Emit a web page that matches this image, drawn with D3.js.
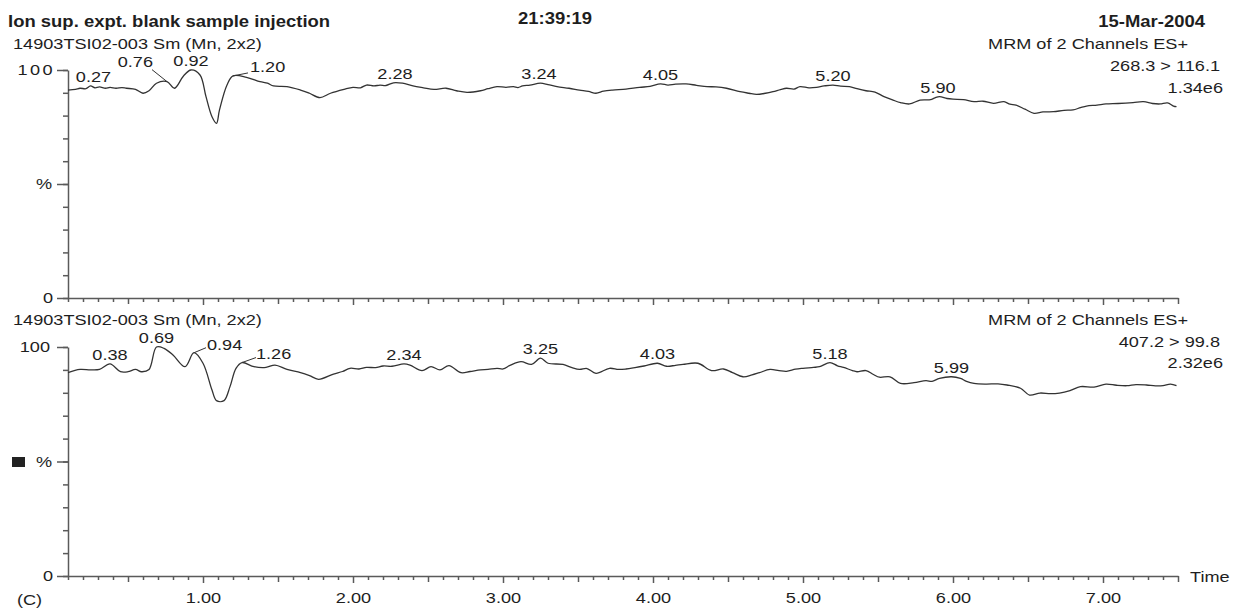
<!DOCTYPE html>
<html>
<head>
<meta charset="utf-8">
<script src="https://cdn.jsdelivr.net/npm/d3@7"></script>
<style>
  body { margin: 0; background: #fff; }
  svg { display: block; }
  text { font-family: "Liberation Sans", Arial, sans-serif; fill: #1e1e1e; }
  .axis path, .axis line { stroke: #5a5a5a; stroke-width: 1.5; }
</style>
</head>
<body>
<div class="content"></div>
<script>
// retention times (min) and % intensity
var topTrace = [
  [0.10,91.2],[0.15,91.5],[0.18,92.0],[0.22,91.8],[0.25,93.0],[0.28,92.2],[0.31,92.6],[0.35,92.0],[0.38,92.4],[0.42,92.0],
  [0.46,92.3],[0.49,92.0],[0.55,91.5],[0.60,89.8],[0.64,90.9],[0.69,94.2],[0.76,94.9],[0.81,92.0],[0.87,97.4],[0.92,100],
  [0.98,97.8],[1.02,88.3],[1.06,79.5],[1.09,76.6],[1.11,82.5],[1.16,93.4],[1.20,97.4],[1.29,96.8],[1.38,94.9],[1.43,94.2],
  [1.47,93.0],[1.56,92.7],[1.65,91.2],[1.71,89.8],[1.78,87.9],[1.85,89.8],[1.94,91.5],[2.00,92.4],[2.05,92.2],[2.09,93.4],
  [2.14,93.0],[2.18,93.4],[2.22,93.2],[2.27,94.4],[2.33,94.2],[2.40,93.0],[2.47,92.2],[2.54,91.5],[2.62,92.0],[2.69,90.9],
  [2.76,90.2],[2.85,90.9],[2.90,91.8],[2.96,92.7],[3.02,92.4],[3.07,92.7],[3.10,92.3],[3.13,93.0],[3.18,93.4],[3.25,94.2],
  [3.30,93.6],[3.36,92.7],[3.44,92.0],[3.51,91.2],[3.57,90.6],[3.62,89.8],[3.67,90.7],[3.73,91.2],[3.82,91.6],[3.91,92.4],
  [3.98,92.8],[4.05,93.9],[4.10,93.4],[4.15,93.8],[4.22,93.9],[4.29,93.3],[4.36,92.7],[4.42,92.6],[4.49,92.0],[4.58,90.5],
  [4.64,89.8],[4.69,89.3],[4.75,89.8],[4.80,90.5],[4.85,91.4],[4.89,92.0],[4.94,91.6],[4.98,92.7],[5.04,92.2],[5.09,92.4],
  [5.14,93.0],[5.20,93.4],[5.25,92.9],[5.31,92.7],[5.36,91.8],[5.42,90.9],[5.48,90.3],[5.54,88.3],[5.60,86.8],[5.65,85.7],
  [5.71,85.1],[5.78,86.8],[5.85,87.0],[5.88,87.8],[5.91,88.3],[5.96,87.5],[6.00,87.2],[6.07,87.0],[6.14,86.1],[6.20,86.3],
  [6.27,85.4],[6.34,86.1],[6.38,85.0],[6.42,84.6],[6.48,82.8],[6.54,81.0],[6.60,81.6],[6.67,81.7],[6.74,82.3],[6.80,82.5],
  [6.85,83.5],[6.89,84.2],[6.96,84.6],[7.02,85.1],[7.10,85.3],[7.20,85.7],[7.27,86.1],[7.33,85.3],[7.38,85.1],[7.43,85.6],
  [7.47,84.2],[7.49,83.9]
];
var bottomTrace = [
  [0.10,88.8],[0.18,90.2],[0.25,90.0],[0.31,90.2],[0.38,92.6],[0.45,89.2],[0.50,89.2],[0.55,90.2],[0.59,89.2],[0.64,90.2],
  [0.69,100],[0.74,99.4],[0.80,96.5],[0.88,91.4],[0.94,97.5],[1.00,92.9],[1.06,81.2],[1.09,76.6],[1.14,76.6],[1.18,82.7],
  [1.22,90.7],[1.26,93.2],[1.34,91.4],[1.42,91.1],[1.48,92.1],[1.56,90.2],[1.65,88.8],[1.71,87.5],[1.77,85.9],[1.87,88.2],
  [1.93,89.3],[1.98,90.7],[2.04,90.4],[2.09,91.1],[2.15,91.0],[2.20,91.7],[2.26,91.6],[2.34,92.6],[2.38,92.1],[2.46,89.7],
  [2.52,91.4],[2.58,90.0],[2.64,91.9],[2.72,88.8],[2.78,89.3],[2.85,90.0],[2.90,90.2],[2.96,90.7],[3.00,90.4],[3.05,92.1],
  [3.12,93.6],[3.19,92.4],[3.25,95.1],[3.30,92.9],[3.40,92.4],[3.46,91.0],[3.51,90.2],[3.56,90.6],[3.62,88.5],[3.71,90.7],
  [3.77,90.2],[3.82,90.4],[3.88,91.0],[3.94,91.7],[4.03,92.9],[4.09,91.6],[4.15,92.0],[4.20,92.4],[4.30,92.9],[4.39,89.7],
  [4.47,90.4],[4.53,88.8],[4.60,87.0],[4.66,87.8],[4.71,88.8],[4.78,90.2],[4.84,89.7],[4.89,89.4],[4.95,90.3],[5.00,90.7],
  [5.07,91.1],[5.11,91.4],[5.18,93.2],[5.23,91.8],[5.27,91.1],[5.33,89.7],[5.36,89.2],[5.42,89.7],[5.47,88.0],[5.51,86.8],
  [5.58,87.0],[5.65,84.1],[5.74,84.4],[5.82,85.3],[5.86,85.0],[5.91,86.3],[5.99,87.0],[6.05,86.3],[6.09,85.0],[6.14,84.1],
  [6.22,83.8],[6.30,83.9],[6.36,83.4],[6.45,82.0],[6.51,79.0],[6.58,79.9],[6.65,79.6],[6.71,79.9],[6.78,81.0],[6.85,82.7],
  [6.94,82.5],[7.02,83.8],[7.09,83.3],[7.16,83.1],[7.22,83.6],[7.29,83.4],[7.35,83.0],[7.40,83.1],[7.45,83.8],[7.49,83.1]
];

// labelled peaks: [time, % at apex]
var topPeaks = [[0.27,93.0],[0.76,94.9],[0.92,100],[1.20,97.4],[2.28,94.4],[3.24,94.2],[4.05,93.9],[5.20,93.4],[5.90,88.3]];
var bottomPeaks = [[0.38,92.6],[0.69,100],[0.94,97.5],[1.26,93.2],[2.34,92.6],[3.25,95.1],[4.03,92.9],[5.18,93.2],[5.99,87.0]];

var xMajor = [1, 2, 3, 4, 5, 6, 7];
var yTicks = [0, 10, 20, 30, 40, 50, 60, 70, 80, 90, 100];

var header = {
  title: 'Ion sup. expt. blank sample injection',
  time: '21:39:19',
  date: '15-Mar-2004'
};
var panels = [
  { sample: '14903TSI02-003 Sm (Mn, 2x2)', scan: 'MRM of 2 Channels ES+', transition: '268.3 > 116.1', maxInt: '1.34e6' },
  { sample: '14903TSI02-003 Sm (Mn, 2x2)', scan: 'MRM of 2 Channels ES+', transition: '407.2 > 99.8', maxInt: '2.32e6' }
];

// leader-line layout for the crowded labels: [lineEndDx, lineEndDy, textDx, textDy, anchor]
var leaders = {
  top: { '0.76': [-15, -12, -14, -15, 'end'], '1.20': [15, -3, 17, -4, 'start'] },
  bottom: { '0.94': [12, -5, 13, -3, 'start'], '1.26': [14, -5, 14, -4, 'start'] }
};

var W = 1236, H = 609;
var SX = 1.21, SXB = 1.12;

var svg = d3.select('.content').append('svg').attr('width', W).attr('height', H);

var x = d3.scaleLinear().domain([0.1, 7.5]).range([68, 1178]);
var yTop = d3.scaleLinear().domain([0, 100]).range([298, 70]);
var yBot = d3.scaleLinear().domain([0, 100]).range([576, 347]);

function txt(g, px, py, s, anchor, bold) {
  return g.append('text')
    .attr('transform', 'translate(' + px + ',' + py + ') scale(' + (bold ? SXB : SX) + ',1)')
    .attr('text-anchor', anchor || 'start')
    .style('font-size', bold ? '16.5px' : '15px')
    .style('font-weight', bold ? 'bold' : 'normal')
    .text(s);
}

// header
txt(svg, 8, 27, header.title, 'start', true);
txt(svg, 555, 24, header.time, 'middle', true);
txt(svg, 1205, 27, header.date, 'end', true);

var allTicks = d3.range(1, 76).map(function(i) { return i / 10; });
var minorTicks = allTicks.filter(function(t) { return Math.round(t * 10) % 5 !== 0; });
var halfTicks = allTicks.filter(function(t) { return Math.round(t * 10) % 10 === 5; });

function drawPanel(y, trace, peaks, info, lead, isBottom, layout) {
  var g = svg.append('g');

  // x axis with minor / half / major ticks
  var base = y(0);
  g.append('g').attr('class', 'axis').attr('transform', 'translate(0,' + base + ')')
    .call(d3.axisBottom(x).tickValues(minorTicks).tickSize(4).tickSizeOuter(0).tickFormat(''));
  g.append('g').attr('class', 'axis half').attr('transform', 'translate(0,' + base + ')')
    .call(d3.axisBottom(x).tickValues(halfTicks).tickSize(6).tickFormat(''))
    .select('.domain').remove();
  var maj = g.append('g').attr('class', 'axis major').attr('transform', 'translate(0,' + base + ')')
    .call(d3.axisBottom(x).tickValues(xMajor).tickSize(7)
      .tickFormat(isBottom ? d3.format('.2f') : ''));
  maj.select('.domain').remove();
  maj.selectAll('text')
    .attr('y', 27).attr('dy', null)
    .attr('transform', 'scale(' + SX + ',1)')
    .style('font-size', '15px')
    .style('font-family', '"Liberation Sans", Arial, sans-serif')
    .attr('fill', '#1e1e1e');

  // y axis
  g.append('g').attr('class', 'axis').attr('transform', 'translate(68,0)')
    .call(d3.axisLeft(y).tickValues(yTicks).tickSize(5).tickSizeOuter(0).tickFormat(''));
  g.append('g').attr('class', 'axis').attr('transform', 'translate(68,0)')
    .call(d3.axisLeft(y).tickValues([0, 50, 100]).tickSize(11).tickFormat(''))
    .select('.domain').remove();

  txt(g, 53, y(0) + 5, '0', 'end');
  var hundred = txt(g, layout.hundredX, y(100) + 5, '100', 'end');
  if (layout.spaced) hundred.style('letter-spacing', '2px');
  txt(g, 44, y(50) + 5, '%', 'middle');

  // trace
  var line = d3.line()
    .x(function(d) { return x(d[0]); })
    .y(function(d) { return y(d[1]); })
    .curve(d3.curveCatmullRom.alpha(0.5));
  g.append('path')
    .datum(trace)
    .attr('d', line)
    .style('fill', 'none')
    .style('stroke', '#333')
    .style('stroke-width', 1.3);

  // peak labels
  peaks.forEach(function(p) {
    var key = p[0].toFixed(2);
    var px = x(p[0]), py = y(p[1]);
    var l = lead[key];
    if (l) {
      g.append('line')
        .attr('x1', px).attr('y1', py)
        .attr('x2', px + l[0]).attr('y2', py + l[1])
        .style('stroke', '#333').style('stroke-width', 1);
      txt(g, px + l[2], py + l[3], key, l[4]);
    } else {
      txt(g, px, py - 4, key, 'middle');
    }
  });

  // panel header texts
  txt(g, 13, layout.line1, info.sample, 'start');
  txt(g, 1188, layout.line1, info.scan, 'end');
  txt(g, 1220, layout.line2, info.transition, 'end');
  txt(g, 1223, layout.line3, info.maxInt, 'end');
}

drawPanel(yTop, topTrace, topPeaks, panels[0], leaders.top, false,
  { line1: 49, line2: 71, line3: 93, hundredX: 55, spaced: true });
drawPanel(yBot, bottomTrace, bottomPeaks, panels[1], leaders.bottom, true,
  { line1: 325, line2: 347, line3: 368, hundredX: 50, spaced: false });

// marker square beside lower %, panel letter, axis title
svg.append('rect').attr('x', 12).attr('y', 457).attr('width', 13).attr('height', 10).style('fill', '#222');
txt(svg, 17, 605, '(C)', 'start');
txt(svg, 1190, 582, 'Time', 'start');
</script>
</body>
</html>
